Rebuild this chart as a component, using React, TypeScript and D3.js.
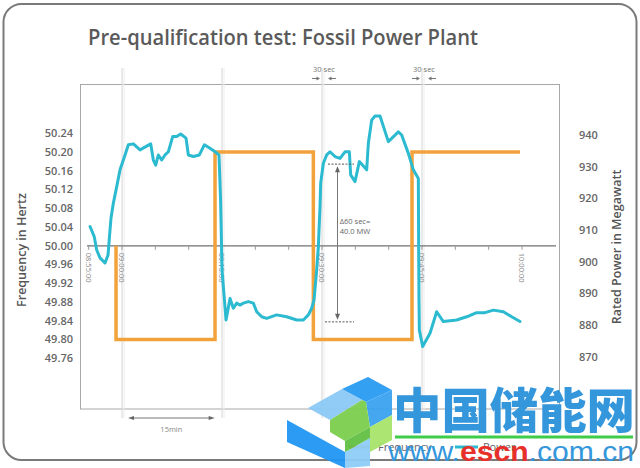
import React from "react";
import * as d3 from "d3";

const W = 640;
const H = 468;

// Power output, minutes after 08:55:00 and megawatts
const powerMinutes = [
  0.2, 0.84, 1.2, 1.7, 2.45, 2.9, 3.13, 3.35, 3.7, 4.2, 4.7, 5.45, 5.95, 6.7, 7.7, 8.7, 9.3, 9.7, 10.05,
  10.45, 10.95, 11.45, 11.95, 12.6, 13.2, 13.8, 14.6, 14.95, 15.7, 16.6, 17.35, 18.2, 18.95, 19.55,
  19.78, 20.0, 20.6, 21.2, 21.7, 22.2, 22.7, 23.2, 23.95, 24.7, 25.2, 25.95, 26.7, 28.2, 29.7, 31.2,
  32.2, 32.95, 33.45, 33.8,
  34.2, 34.45, 34.7, 34.8, 35.2, 35.7, 36.2, 36.95, 37.7, 38.45, 39.1, 39.3, 39.95, 40.6, 41.7, 41.95,
  42.45, 42.95, 43.7, 44.95, 46.45, 46.95, 47.95, 48.7, 49.45,
  49.5, 49.55, 49.6, 50.1, 51.2, 52.2, 53.2, 55.2, 56.7, 58.2, 59.45, 60.7, 62.2, 63.45, 64.7,
];
const powerMW = [
  911.1, 907.9, 903.7, 901.2, 899.6, 902.1, 908.4, 913.8, 918.5, 923.7, 929.0, 933.7, 936.9, 937.2,
  935.3, 936.5, 937.2, 932.1, 930.5, 933.7, 932.1, 933.7, 934.7, 939.5, 939.5, 940.3, 939.0, 933.7,
  933.2, 933.7, 936.9, 935.8, 934.7, 933.7,
  919.5, 897.4, 881.6, 888.4, 885.3, 886.9, 886.3, 886.9, 887.4, 886.9, 884.2, 882.6, 882.1, 883.2,
  882.6, 881.6, 881.6, 883.2, 885.3, 887.9,
  897.4, 904.7, 917.4, 924.8, 931.1, 933.7, 934.7, 933.2, 932.6, 934.7, 934.7, 927.4, 925.3, 931.6,
  929.0, 937.4, 944.7, 946.0, 946.0, 937.9, 941.0, 940.0, 934.2, 929.0, 926.3,
  903.7, 887.9, 878.4, 873.2, 877.4, 884.2, 881.1, 881.6, 882.6, 883.9, 883.9, 884.7, 884.2, 882.6,
  881.1,
];

// Grid frequency set-point steps, minutes after 08:55:00 and hertz
const freqMinutes = [4.1, 4.1, 18.95, 33.7, 48.5, 64.7];
const freqHz = [50.0, 49.8, 50.2, 49.8, 50.2, 50.2];

const freqTicks = [49.76, 49.8, 49.84, 49.88, 49.92, 49.96, 50.0, 50.04, 50.08, 50.12, 50.16, 50.2, 50.24];
const powerTicks = [870, 880, 890, 900, 910, 920, 930, 940];
const timeLabels = ["08:55:00", "09:00:00", "09:15:00", "09:30:00", "09:45:00", "10:00:00"];
const eventTimes = ["09:00:00", "09:15:00", "09:30:00", "09:45:00"];
const secMarkers = ["09:30:00", "09:45:00"];

// Ramp annotation levels (MW) and its labels
const rampFromMW = 930.8;
const rampToMW = 881.0;
const rampLabels = ["\u039460 sec=", "40.0 MW"];

const parse = d3.timeParse("%H:%M:%S");
const base = parse("08:55:00") as Date;
const at = (m: number) => d3.timeSecond.offset(base, Math.round(m * 60));

const GRAY = "#666";
const ORANGE = "#f2a23a";
const CYAN = "#2bbad0";

export default function App() {
  const x = d3.scaleTime().domain([base, parse("10:00:00") as Date]).range([88.7, 522]);
  const yF = d3.scaleLinear().domain([49.76, 50.24]).range([358.3, 133.3]);
  const yP = d3.scaleLinear().domain([870, 940]).range([356.7, 135]);

  const powerPts = powerMinutes.map((m, i) => [x(at(m)), yP(powerMW[i])] as [number, number]);
  const freqPts = freqMinutes.map((m, i) => [x(at(m)), yF(freqHz[i])] as [number, number]);

  const powerPath = d3.line().curve(d3.curveLinear)(powerPts) || "";
  const freqPath = d3.line().curve(d3.curveStepAfter)(freqPts) || "";

  const axisY = yF(50.0);
  const minorTicks = x.ticks(d3.timeMinute.every(5) as d3.TimeInterval);

  const fs = "'Open Sans', 'DejaVu Sans', sans-serif";

  const rampX = 337.5;
  const rTop = yP(rampFromMW);
  const rBot = yP(rampToMW);

  const x15a = x(at(5.9));
  const x15b = x(at(18.9));

  return (
    <svg
      width={W}
      height={H}
      viewBox={`0 0 ${W} ${H}`}
      style={{ position: "absolute", left: 0, top: 0, display: "block", background: "#fff" }}
      fontFamily={fs}
    >
      {/* outer card */}
      <rect x={3.5} y={4} width={633} height={456} rx={18} fill="#fff" stroke="#7a7a7a" strokeWidth={2} />

      <text x={88} y={45} fontSize={22} fontWeight={600} fill="#5a5a5a" textLength={390} lengthAdjust="spacingAndGlyphs">
        Pre-qualification test: Fossil Power Plant
      </text>

      {/* plot frame */}
      <rect x={80.5} y={84.5} width={479} height={324.5} fill="none" stroke="#a8a8a8" strokeWidth={1} />

      {/* event markers */}
      {eventTimes.map((t) => {
        const xv = x(parse(t) as Date);
        return (
          <g key={t}>
            <line x1={xv} x2={xv} y1={68} y2={418} stroke="#dcdcdc" strokeWidth={1.2} />
            <line x1={xv + 2} x2={xv + 2} y1={68} y2={418} stroke="#ececec" strokeWidth={1} />
          </g>
        );
      })}

      {/* 30 sec markers */}
      {secMarkers.map((t) => {
        const xv = x(parse(t) as Date) + 2;
        return (
          <g key={t} stroke="#777" fill="#777">
            <text x={xv} y={72} fontSize={7.5} textAnchor="middle" stroke="none" fill="#777">30 sec</text>
            <line x1={xv - 12} x2={xv - 5} y1={78.5} y2={78.5} strokeWidth={1} />
            <path d={`M${xv - 4},78.5 L${xv - 7.5},76.5 L${xv - 7.5},80.5 Z`} stroke="none" />
            <line x1={xv + 5} x2={xv + 12} y1={78.5} y2={78.5} strokeWidth={1} />
            <path d={`M${xv + 4},78.5 L${xv + 7.5},76.5 L${xv + 7.5},80.5 Z`} stroke="none" />
          </g>
        );
      })}

      {/* x axis */}
      <line x1={87} x2={556} y1={axisY} y2={axisY} stroke="#707070" strokeWidth={1.2} />
      {minorTicks.map((d, i) => (
        <line key={i} x1={x(d)} x2={x(d)} y1={axisY} y2={axisY + 4} stroke="#999" strokeWidth={1} />
      ))}
      {timeLabels.map((t) => {
        const xv = x(parse(t) as Date);
        return (
          <text
            key={t}
            transform={`translate(${xv - 3},${axisY + 7}) rotate(90)`}
            fontSize={7.5}
            fill="#888"
          >
            {t}
          </text>
        );
      })}

      {/* left axis labels */}
      {freqTicks.map((v) => (
        <text key={v} x={73} y={yF(v)} dy="0.35em" textAnchor="end" fontSize={11} fontWeight={600} fill={GRAY}>
          {v.toFixed(2)}
        </text>
      ))}
      <text transform={`translate(26,250) rotate(-90)`} textAnchor="middle" fontSize={12.5} fontWeight={600} fill="#555">
        Frequency in Hertz
      </text>

      {/* right axis labels */}
      {powerTicks.map((v) => (
        <text key={v} x={579} y={yP(v)} dy="0.35em" fontSize={11} fontWeight={600} fill={GRAY}>
          {v}
        </text>
      ))}
      <text transform={`translate(621,247) rotate(-90)`} textAnchor="middle" fontSize={12.5} fontWeight={600} fill="#555">
        Rated Power in Megawatt
      </text>

      {/* series */}
      <path d={freqPath} fill="none" stroke={ORANGE} strokeWidth={3.5} strokeLinejoin="miter" />
      <path d={powerPath} fill="none" stroke={CYAN} strokeWidth={3} strokeLinejoin="round" strokeLinecap="round" />

      {/* ramp annotation */}
      <line x1={328} x2={354} y1={rTop} y2={rTop} stroke="#555" strokeWidth={1} strokeDasharray="2,1.5" />
      <line x1={325} x2={354} y1={rBot} y2={rBot} stroke="#555" strokeWidth={1} strokeDasharray="2,1.5" />
      <line x1={rampX} x2={rampX} y1={rTop + 4} y2={rBot - 4} stroke="#777" strokeWidth={1} />
      <path d={`M${rampX},${rTop + 2} L${rampX - 2.5},${rTop + 8} L${rampX + 2.5},${rTop + 8} Z`} fill="#666" />
      <path d={`M${rampX},${rBot - 2} L${rampX - 2.5},${rBot - 8} L${rampX + 2.5},${rBot - 8} Z`} fill="#666" />
      {rampLabels.map((s, i) => (
        <text key={s} x={355} y={224 + i * 10} fontSize={7.5} textAnchor="middle" fill="#666">
          {s}
        </text>
      ))}

      {/* 15 min span */}
      <g stroke="#777" fill="#666">
        <line x1={x15a + 3} x2={x15b - 3} y1={418} y2={418} strokeWidth={1} />
        <path d={`M${x15a},418 L${x15a + 6},416 L${x15a + 6},420 Z`} stroke="none" />
        <path d={`M${x15b},418 L${x15b - 6},416 L${x15b - 6},420 Z`} stroke="none" />
      </g>
      <text x={(x15a + x15b) / 2} y={432} fontSize={7.5} textAnchor="middle" fill="#888">15min</text>

      {/* legend */}
      <line x1={349} x2={371} y1={447} y2={447} stroke={ORANGE} strokeWidth={3} />
      <text x={378} y={451} fontSize={11} fill="#666">Frequency</text>
      <line x1={455} x2={478} y1={447} y2={447} stroke={CYAN} strokeWidth={3} />
      <text x={483} y={451} fontSize={11} fill="#666">Power</text>

      {/* site mark */}
      <g opacity={0.95}>
        <polygon points="287,420 345,452 345,468 287,442" fill="#2196f3" />
        <polygon points="345,452 370,438 370,466 345,468" fill="#8fcdf7" />
        <polygon points="308,408 342,389 362,400 330,420" fill="#8ccaf6" />
        <polygon points="342,389 368,377 392,390 366,402" fill="#2a9bf2" />
        <polygon points="366,402 392,390 392,415 370,427" fill="#3aa3f0" />
        <polygon points="330,420 362,400 366,402 370,427 345,441 330,432" fill="#7ccf4e" />
        <polygon points="370,427 392,415 392,440 370,452" fill="#a9e46c" />
        <polygon points="345,441 370,427 370,438 345,452" fill="#62c043" />
      </g>
      <text x={393} y={428} fontSize={48} fontWeight={900} fill="#3497dc" fontFamily="'Noto Sans CJK SC', sans-serif" textLength={242} lengthAdjust="spacingAndGlyphs">
        中国储能网
      </text>
      <line x1={395} x2={633} y1={437} y2={437} stroke="#3fcc48" strokeWidth={3} />
      <text x={388} y={461} fontSize={28} fontFamily="'Liberation Sans', Arial, sans-serif" fill="#3497dc" textLength={246} lengthAdjust="spacingAndGlyphs">
        www.<tspan fill="#e8302a" fontWeight={700}>escn</tspan>.com.cn
      </text>
    </svg>
  );
}
